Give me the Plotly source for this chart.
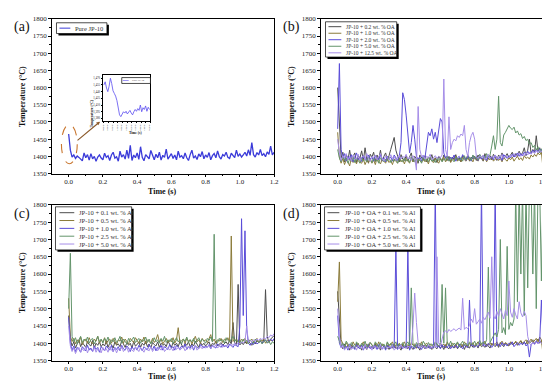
import plotly.graph_objects as go

W, H = 550, 381
FONT = "Liberation Serif"

# ---------------- data ----------------
t_main = [round(i * 0.01, 2) for i in range(121)]

pure_jp10 = [1465,1418,1398,1404,1394,1401,1397,1391,1387,1410,1396,1405,1389,1408,1393,1400,1386,1398,1404,1395,
             1390,1409,1397,1402,1388,1404,1412,1395,1399,1386,1415,1398,1405,1392,1418,1394,1432,1388,1404,1396,
             1410,1391,1428,1397,1387,1405,1399,1393,1417,1401,1390,1406,1396,1412,1389,1403,1397,1421,1392,1400,
             1408,1394,1404,1390,1415,1398,1402,1393,1410,1396,1388,1405,1418,1395,1401,1391,1407,1399,1414,1393,
             1404,1397,1411,1390,1402,1408,1396,1416,1399,1392,1405,1401,1412,1397,1394,1409,1402,1396,1418,1400,
             1407,1398,1404,1412,1401,1419,1403,1440,1405,1398,1411,1404,1420,1402,1408,1399,1413,1406,1430,1404,1412]

inset_t = [round(i * 0.0014, 4) for i in range(36)]
inset_vals = [1455,1462,1448,1440,1452,1470,1458,1442,1436,1430,1420,1402,1388,1384,1390,1395,1392,1396,
              1390,1393,1398,1392,1388,1395,1400,1396,1402,1398,1410,1395,1404,1400,1408,1396,1405,1400]

# (b) OA series
b_names = ["JP-10 + 0.2 wt. % OA", "JP-10 + 1.0 wt. % OA", "JP-10 + 2.0 wt. % OA",
           "JP-10 + 5.0 wt. % OA", "JP-10 + 12.5 wt. % OA"]
b_oa_02 = [1600,1470,1395,1412,1384,1405,1390,1418,1386,1400,1410,1382,1402,1395,1416,1388,1425,1392,1380,1406,
           1398,1412,1385,1404,1392,1418,1386,1400,1410,1390,1402,1420,1440,1455,1418,1398,1384,1405,1392,1388,
           1402,1386,1396,1410,1384,1400,1392,1380,1404,1395,1388,1402,1384,1398,1390,1405,1386,1396,1382,1400,
           1392,1386,1404,1395,1388,1400,1384,1398,1392,1405,1388,1396,1384,1402,1394,1390,1405,1386,1398,1392,
           1400,1388,1404,1394,1398,1386,1408,1396,1392,1402,1390,1406,1398,1388,1404,1396,1410,1392,1400,1408,
           1396,1404,1412,1398,1408,1400,1415,1404,1410,1425,1402,1418,1450,1408,1420,1412,1460,1415,1425,1410,1418]
b_oa_10 = [1470,1398,1380,1394,1376,1390,1384,1372,1396,1382,1388,1378,1395,1384,1380,1392,1376,1388,1382,1394,
           1380,1390,1376,1396,1384,1378,1392,1386,1380,1394,1382,1388,1376,1392,1385,1380,1396,1384,1390,1378,
           1394,1386,1380,1398,1384,1390,1376,1394,1388,1382,1396,1384,1390,1378,1395,1386,1382,1394,1388,1380,
           1392,1386,1398,1384,1390,1396,1382,1394,1388,1400,1386,1392,1384,1398,1390,1386,1396,1388,1392,1384,
           1398,1390,1386,1400,1392,1388,1396,1384,1394,1390,1398,1386,1392,1396,1388,1394,1384,1398,1390,1386,
           1396,1390,1398,1386,1394,1400,1390,1396,1388,1402,1394,1398,1392,1404,1398,1406,1400,1410,1404,1412,1362]
b_oa_20 = [1480,1670,1420,1395,1408,1386,1400,1392,1405,1384,1398,1410,1390,1396,1385,1402,1394,1388,1404,1392,
           1398,1386,1402,1394,1390,1405,1388,1396,1384,1400,1392,1398,1386,1404,1395,1388,1400,1440,1585,1565,
           1520,1450,1410,1440,1490,1450,1400,1392,1398,1386,1402,1396,1440,1470,1460,1480,1450,1470,1440,1480,
           1510,1500,1410,1395,1402,1388,1398,1392,1404,1386,1396,1400,1390,1405,1394,1388,1400,1396,1386,1402,
           1394,1398,1388,1404,1392,1396,1400,1388,1402,1394,1398,1390,1404,1396,1392,1400,1388,1405,1398,1394,
           1402,1396,1406,1398,1404,1410,1400,1408,1402,1412,1405,1415,1408,1410,1418,1412,1420,1414,1422,1416,1418]
b_oa_50 = [1420,1395,1384,1400,1388,1396,1380,1392,1386,1398,1382,1394,1388,1380,1396,1386,1392,1384,1398,1388,
           1382,1394,1386,1390,1380,1396,1388,1384,1392,1386,1398,1382,1390,1386,1394,1380,1392,1388,1384,1396,
           1386,1392,1382,1398,1388,1384,1394,1386,1390,1380,1396,1388,1392,1384,1398,1386,1390,1382,1394,1388,
           1396,1384,1392,1388,1400,1386,1394,1390,1384,1398,1392,1388,1396,1386,1402,1390,1394,1398,1388,1404,
           1394,1400,1390,1406,1396,1402,1392,1408,1398,1404,1430,1460,1420,1450,1575,1440,1430,1462,1470,1478,
           1490,1482,1478,1485,1468,1474,1462,1466,1452,1458,1446,1450,1436,1440,1426,1432,1418,1428,1410,1422,1405]
b_oa_125 = [1450,1410,1388,1402,1394,1408,1390,1400,1386,1404,1396,1392,1406,1388,1398,1402,1390,1408,1394,1386,
            1400,1396,1404,1390,1398,1408,1392,1386,1402,1396,1390,1405,1394,1400,1388,1398,1404,1392,1400,1396,
            1406,1392,1398,1388,1402,1394,1360,1545,1420,1398,1404,1392,1400,1396,1406,1390,1398,1402,1394,1400,
            1396,1404,1625,1420,1400,1515,1420,1440,1450,1445,1460,1455,1465,1460,1490,1420,1400,1440,1460,1470,
            1450,1400,1394,1402,1396,1404,1390,1398,1406,1394,1400,1396,1404,1392,1400,1398,1406,1394,1402,1398,
            1396,1404,1400,1408,1398,1404,1410,1400,1406,1402,1410,1404,1412,1406,1414,1408,1416,1410,1418,1412,1420]

# (c) Al series
c_names = ["JP-10 + 0.1 wt. % Al", "JP-10 + 0.5 wt. % Al", "JP-10 + 1.0 wt. % Al",
           "JP-10 + 2.5 wt. % Al", "JP-10 + 5.0 wt. % Al"]
c_al_01 = [1480,1410,1392,1404,1386,1398,1410,1390,1402,1395,1388,1405,1396,1392,1408,1386,1400,1394,1404,1390,
           1398,1392,1406,1388,1400,1396,1386,1404,1394,1398,1390,1408,1396,1388,1402,1394,1400,1386,1405,1392,
           1396,1404,1388,1400,1394,1406,1390,1398,1386,1402,1396,1392,1404,1388,1400,1394,1398,1390,1406,1396,
           1388,1402,1394,1400,1390,1405,1396,1386,1400,1394,1404,1390,1398,1392,1406,1396,1388,1402,1394,1400,
           1392,1398,1404,1390,1400,1396,1406,1392,1398,1402,1394,1400,1404,1396,1408,1398,1460,1402,1396,1570,
           1395,1402,1396,1404,1398,1406,1400,1394,1404,1398,1408,1402,1406,1400,1410,1555,1420,1402,1412,1418,1422]
c_al_05 = [1530,1420,1405,1414,1398,1410,1402,1418,1396,1408,1412,1400,1416,1404,1398,1412,1406,1420,1400,1410,
           1404,1416,1398,1408,1412,1400,1414,1404,1396,1410,1406,1418,1400,1412,1404,1398,1414,1408,1402,1416,
           1406,1400,1412,1404,1418,1398,1410,1406,1400,1414,1402,1410,1425,1404,1412,1398,1408,1414,1402,1410,
           1404,1416,1400,1410,1445,1402,1408,1412,1400,1414,1406,1410,1398,1412,1420,1404,1410,1400,1414,1406,
           1410,1402,1416,1425,1404,1412,1400,1410,1406,1414,1402,1412,1408,1416,1404,1710,1405,1412,1406,1410,
           1402,1412,1406,1414,1400,1410,1406,1412,1404,1408,1414,1402,1410,1406,1412,1400,1408,1404,1410,1406,1412]
c_al_10 = [1475,1400,1380,1392,1376,1388,1382,1374,1390,1384,1378,1394,1380,1386,1376,1392,1382,1388,1374,1390,
           1384,1378,1392,1386,1380,1394,1376,1388,1382,1390,1378,1394,1384,1380,1392,1386,1376,1390,1382,1388,
           1380,1394,1386,1378,1390,1384,1380,1396,1386,1382,1392,1378,1388,1384,1394,1380,1390,1386,1382,1396,
           1386,1390,1380,1394,1388,1384,1392,1386,1398,1382,1390,1386,1394,1380,1392,1388,1384,1396,1390,1386,
           1392,1388,1396,1384,1394,1390,1386,1398,1392,1388,1396,1390,1394,1386,1398,1392,1388,1396,1392,1390,
           1450,1760,1480,1725,1440,1400,1394,1402,1396,1404,1398,1402,1406,1400,1404,1410,1402,1408,1412,1406,1414]
c_al_25 = [1500,1660,1420,1404,1416,1398,1410,1420,1402,1412,1406,1418,1400,1410,1414,1398,1408,1420,1404,1412,
           1400,1414,1406,1418,1398,1410,1404,1416,1402,1408,1420,1400,1412,1406,1398,1414,1404,1410,1418,1402,
           1408,1414,1400,1410,1406,1418,1402,1412,1398,1408,1416,1404,1410,1400,1414,1406,1420,1402,1410,1404,
           1414,1400,1408,1416,1404,1410,1398,1412,1406,1418,1402,1410,1404,1414,1400,1408,1416,1404,1412,1406,
           1400,1414,1408,1418,1404,1715,1410,1402,1414,1406,1410,1400,1416,1408,1404,1412,1420,1406,1410,1402,
           1408,1400,1412,1404,1408,1398,1410,1404,1400,1412,1406,1402,1408,1398,1404,1410,1400,1406,1396,1404,1400]
c_al_50 = [1450,1392,1376,1386,1370,1382,1388,1374,1384,1378,1390,1372,1386,1380,1376,1388,1374,1384,1380,1372,
           1388,1378,1384,1374,1390,1380,1376,1386,1372,1384,1378,1390,1376,1382,1388,1374,1386,1380,1376,1390,
           1382,1376,1388,1380,1374,1386,1382,1378,1390,1376,1384,1388,1378,1386,1380,1392,1376,1384,1388,1380,
           1386,1378,1392,1382,1388,1380,1384,1390,1378,1386,1392,1382,1388,1384,1394,1380,1386,1390,1384,1392,
           1386,1390,1394,1384,1392,1388,1396,1386,1392,1398,1388,1394,1390,1396,1392,1398,1394,1400,1396,1402,
           1398,1404,1400,1406,1450,1402,1408,1404,1410,1406,1412,1408,1414,1410,1416,1412,1420,1416,1424,1420,1428]

# (d) OA + Al series
d_names = ["JP-10 + OA + 0.1 wt. % Al", "JP-10 + OA + 0.5 wt. % Al", "JP-10 + OA + 1.0 wt. % Al",
           "JP-10 + OA + 2.5 wt. % Al", "JP-10 + OA + 5.0 wt. % Al"]
d_al_01 = [1550,1450,1392,1384,1398,1386,1394,1380,1396,1388,1384,1400,1386,1392,1380,1396,1388,1382,1394,1386,
           1390,1384,1398,1386,1392,1380,1396,1388,1384,1394,1382,1390,1386,1398,1384,1392,1388,1380,1396,1386,
           1392,1384,1398,1388,1382,1394,1386,1390,1380,1396,1388,1384,1394,1386,1392,1382,1398,1388,1384,1394,
           1386,1392,1382,1396,1388,1384,1394,1390,1386,1398,1384,1392,1388,1396,1382,1394,1390,1386,1398,1388,
           1392,1396,1386,1400,1390,1394,1388,1398,1392,1386,1400,1394,1390,1398,1388,1402,1394,1390,1400,1396,
           1392,1402,1396,1398,1404,1394,1400,1406,1396,1402,1398,1408,1400,1404,1410,1398,1406,1412,1400,1408,1385]
d_al_05 = [1520,1635,1410,1396,1388,1402,1392,1398,1386,1404,1394,1390,1400,1386,1396,1404,1390,1398,1388,1402,
           1396,1386,1400,1392,1404,1388,1398,1394,1386,1402,1390,1398,1404,1388,1396,1392,1400,1386,1398,1404,
           1390,1396,1388,1402,1394,1398,1386,1400,1392,1404,1388,1396,1400,1390,1398,1394,1386,1402,1396,1390,
           1400,1392,1398,1386,1404,1394,1390,1400,1396,1388,1402,1394,1398,1390,1404,1396,1388,1400,1394,1402,
           1390,1398,1404,1392,1400,1396,1406,1390,1398,1402,1394,1400,1396,1404,1392,1400,1406,1396,1402,1398,
           1394,1404,1400,1398,1406,1396,1402,1408,1400,1404,1410,1398,1406,1412,1402,1408,1414,1404,1418,1410,1365]
d_al_10 = [1480,1400,1388,1396,1384,1392,1380,1398,1386,1390,1382,1396,1388,1384,1394,1380,1392,1386,1398,1384,
           1390,1386,1394,1382,1396,1388,1384,1392,1380,1394,1388,1384,1396,1386,1680,1382,1394,1388,1384,1392,
           1386,1680,1380,1392,1388,1384,1396,1386,1390,1382,1394,1388,1386,1392,1384,1390,1386,1850,1388,1392,
           1384,1396,1388,1392,1386,1398,1384,1392,1388,1394,1386,1398,1390,1384,1396,1390,1388,1525,1392,1396,
           1388,1394,1390,1398,1850,1392,1396,1390,1400,1394,1388,1396,1850,1392,1398,1390,1402,1394,1398,1392,
           1400,1396,1404,1390,1398,1402,1394,1400,1396,1404,1392,1398,1360,1396,1402,1398,1406,1400,1404,1525,1410]
d_al_25 = [1420,1404,1392,1400,1388,1406,1396,1390,1402,1394,1386,1404,1398,1390,1400,1392,1406,1388,1398,1402,
           1394,1390,1404,1396,1388,1402,1392,1398,1386,1404,1394,1400,1390,1396,1404,1388,1398,1394,1402,1390,
           1398,1404,1392,1560,1396,1388,1402,1394,1400,1390,1406,1396,1388,1402,1394,1398,1390,1404,1396,1392,
           1402,1570,1400,1560,1398,1394,1406,1392,1400,1396,1404,1390,1398,1406,1394,1400,1392,1404,1398,1396,
           1406,1394,1400,1408,1396,1404,1398,1410,1620,1402,1412,1420,1430,1418,1440,1700,1430,1445,1425,1680,
           1440,1460,1450,1470,1850,1520,1850,1600,1850,1480,1850,1560,1850,1850,1600,1850,1500,1850,1850,1580,1850]
d_al_50 = [1500,1420,1386,1394,1380,1390,1384,1396,1382,1388,1392,1380,1394,1386,1390,1382,1396,1384,1388,1392,
           1380,1394,1386,1390,1384,1396,1382,1388,1392,1384,1390,1386,1394,1380,1388,1392,1384,1396,1386,1390,
           1384,1392,1388,1396,1450,1545,1460,1400,1386,1394,1388,1392,1384,1396,1390,1386,1394,1388,1650,1400,
           1392,1410,1432,1436,1430,1440,1434,1438,1442,1436,1440,1444,1438,1530,1440,1446,1442,1452,1470,1460,
           1500,1455,1462,1470,1458,1475,1468,1480,1490,1472,1650,1480,1470,1492,1478,1500,1485,1470,1495,1480,
           1580,1490,1475,1500,1482,1470,1520,1488,1476,1492,1480,1420,1400,1394,1402,1396,1404,1398,1406,1400,1404]

x_ticks = [0.0, 0.2, 0.4, 0.6, 0.8, 1.0, 1.2]
y_ticks = [1350, 1400, 1450, 1500, 1550, 1600, 1650, 1700, 1750, 1800]

# ---------------- styles ----------------
BLUE = "#3b3bd9"
colors5 = ["#4d4d4d", "#8b7b3a", "#5a4cd8", "#63946b", "#a68ee8"]


def px(x):
    return x / W


def py(y):
    return 1 - y / H


fig = go.Figure()

fig.add_trace(go.Scatter(x=t_main, y=pure_jp10, mode="lines", line=dict(color=BLUE, width=1.3),
                         xaxis="x", yaxis="y", showlegend=False))
fig.add_trace(go.Scatter(x=inset_t, y=inset_vals, mode="lines", line=dict(color="#5a4cf0", width=0.8),
                         xaxis="x5", yaxis="y5", showlegend=False))

for series, ax in [((b_oa_02, b_oa_10, b_oa_20, b_oa_50, b_oa_125), ("x2", "y2")),
                   ((c_al_01, c_al_05, c_al_10, c_al_25, c_al_50), ("x3", "y3")),
                   ((d_al_01, d_al_05, d_al_10, d_al_25, d_al_50), ("x4", "y4"))]:
    for vals, col in zip(series, colors5):
        fig.add_trace(go.Scatter(x=t_main, y=vals, mode="lines", line=dict(color=col, width=1),
                                 xaxis=ax[0], yaxis=ax[1], showlegend=False))

tickfont = dict(family=FONT, size=7, color="#222")


def xax(dom, anchor):
    return dict(domain=dom, anchor=anchor, range=[-0.1, 1.2], tickvals=x_ticks,
                ticktext=["%.1f" % v for v in x_ticks], ticks="outside", ticklen=2.5, tickwidth=0.8,
                tickcolor="black", minor=dict(ticks="outside", ticklen=1.5, tickvals=[0.1, 0.3, 0.5, 0.7, 0.9, 1.1]),
                showline=True, linecolor="black", linewidth=1, mirror=True, showgrid=False,
                zeroline=False, tickfont=tickfont, ticklabelstandoff=-1)


def yax(dom, anchor):
    return dict(domain=dom, anchor=anchor, range=[1350, 1800], tickvals=y_ticks, ticks="outside",
                ticklen=2.5, tickwidth=0.8, tickcolor="black",
                minor=dict(ticks="outside", ticklen=1.5, tickvals=[v + 25 for v in y_ticks[:-1]]),
                showline=True, linecolor="black", linewidth=1, mirror=True, showgrid=False,
                zeroline=False, tickfont=tickfont)


xl = [px(43), px(268)]
xr = [px(315), px(540)]
yt = [py(165), py(7)]
yb = [py(356), py(197)]

fig.update_layout(
    width=W, height=H, margin=dict(l=0, r=0, t=0, b=0),
    paper_bgcolor="white", plot_bgcolor="white", showlegend=False,
    xaxis=xax(xl, "y"), yaxis=yax(yt, "x"),
    xaxis2=xax(xr, "y2"), yaxis2=yax(yt, "x2"),
    xaxis3=xax(xl, "y3"), yaxis3=yax(yb, "x3"),
    xaxis4=xax(xr, "y4"), yaxis4=yax(yb, "x4"),
    xaxis5=dict(domain=[px(95), px(143)], anchor="y5", range=[-0.001, 0.05], dtick=0.005,
                tickformat=".3f", ticks="outside", ticklen=1.5, tickwidth=0.5, tickcolor="black",
                showline=True, linecolor="black", linewidth=0.7, mirror=True, showgrid=False,
                zeroline=False, tickfont=dict(family=FONT, size=2.6, color="#222")),
    yaxis5=dict(domain=[py(111), py(64)], anchor="x5", range=[1375, 1478],
                tickvals=[1380, 1395, 1410, 1425, 1440, 1455, 1470], tickformat=",d",
                ticks="outside", ticklen=1.5, tickwidth=0.5, tickcolor="black",
                showline=True, linecolor="black", linewidth=0.7, mirror=True, showgrid=False,
                zeroline=False, tickfont=dict(family=FONT, size=3, color="#222")),
)

shapes = []
annotations = []

for cx, cy in [(155, 183), (427, 183), (155, 372), (427, 372)]:
    annotations.append(dict(x=px(cx), y=py(cy), xref="paper", yref="paper", text="<b>Time (s)</b>",
                            showarrow=False, font=dict(family=FONT, size=8, color="#111"),
                            xanchor="center", yanchor="middle"))
for cx, cy in [(13, 86), (285, 86), (13, 276), (285, 276)]:
    annotations.append(dict(x=px(cx), y=py(cy), xref="paper", yref="paper",
                            text="<b>Temperature (°C)</b>", textangle=-90, showarrow=False,
                            font=dict(family=FONT, size=8, color="#111"),
                            xanchor="center", yanchor="middle"))
for lab, cx, cy in [("(a)", 13, 15), ("(b)", 286, 15), ("(c)", 13, 206), ("(d)", 286, 206)]:
    annotations.append(dict(x=px(cx), y=py(cy), xref="paper", yref="paper", text=lab,
                            showarrow=False, font=dict(family=FONT, size=14, color="#111"),
                            xanchor="center", yanchor="middle"))

annotations.append(dict(x=px(119), y=py(120), xref="paper", yref="paper", text="<b>Time (s)</b>",
                        showarrow=False, font=dict(family=FONT, size=3.6, color="#111")))
annotations.append(dict(x=px(80), y=py(87), xref="paper", yref="paper", text="<b>Temperature (°C)</b>",
                        textangle=-90, showarrow=False, font=dict(family=FONT, size=3.6, color="#111")))


def legend(x0, y0, x1, y1, names, cols, sx0, sx1, tx, rows_y, fsize, shadow=2, lw=1.0):
    if shadow:
        shapes.append(dict(type="rect", xref="paper", yref="paper", x0=px(x0 + shadow), x1=px(x1 + shadow),
                           y0=py(y1 + shadow), y1=py(y0 + shadow), fillcolor="black",
                           line=dict(width=0), layer="above"))
    shapes.append(dict(type="rect", xref="paper", yref="paper", x0=px(x0), x1=px(x1), y0=py(y1), y1=py(y0),
                       fillcolor="white", line=dict(color="black", width=0.7), layer="above"))
    for name, col, ry in zip(names, cols, rows_y):
        shapes.append(dict(type="line", xref="paper", yref="paper", x0=px(sx0), x1=px(sx1), y0=py(ry), y1=py(ry),
                           line=dict(color=col, width=lw), layer="above"))
        annotations.append(dict(x=px(tx), y=py(ry), xref="paper", yref="paper", text=name, showarrow=False,
                                xanchor="left", yanchor="middle",
                                font=dict(family=FONT, size=fsize, color="#333")))


legend(48, 11, 99, 22, ["Pure JP-10"], [BLUE], 51, 62, 65, [16.5], 6.5)
legend(114, 67, 143, 73, ["Pure JP-10"], ["#5a4cf0"], 115, 121, 122, [70], 2.8, shadow=0, lw=0.6)
legend(320, 10, 392, 46, b_names, colors5, 323, 336, 339, [15, 21.7, 28.3, 35, 41.7], 5.5)
legend(47, 199, 124, 243, c_names, colors5, 51, 66, 69, [205, 213, 221, 229, 237], 6.5)
legend(319, 199, 416, 243, d_names, colors5, 322, 334, 338, [205, 213, 221, 229, 237], 6.5)

shapes.append(dict(type="circle", xref="paper", yref="paper", x0=px(53), x1=px(69), y0=py(155), y1=py(115),
                   line=dict(color="#c9762e", width=1.1, dash="dash"), layer="above"))
annotations.append(dict(x=px(92), y=py(112), xref="paper", yref="paper", ax=-24, ay=20, text="",
                        showarrow=True, arrowhead=2, arrowsize=0.6, arrowwidth=1.2, arrowcolor="#8b5a2b"))

fig.update_layout(shapes=shapes, annotations=annotations)
fig.write_html("out.html")
